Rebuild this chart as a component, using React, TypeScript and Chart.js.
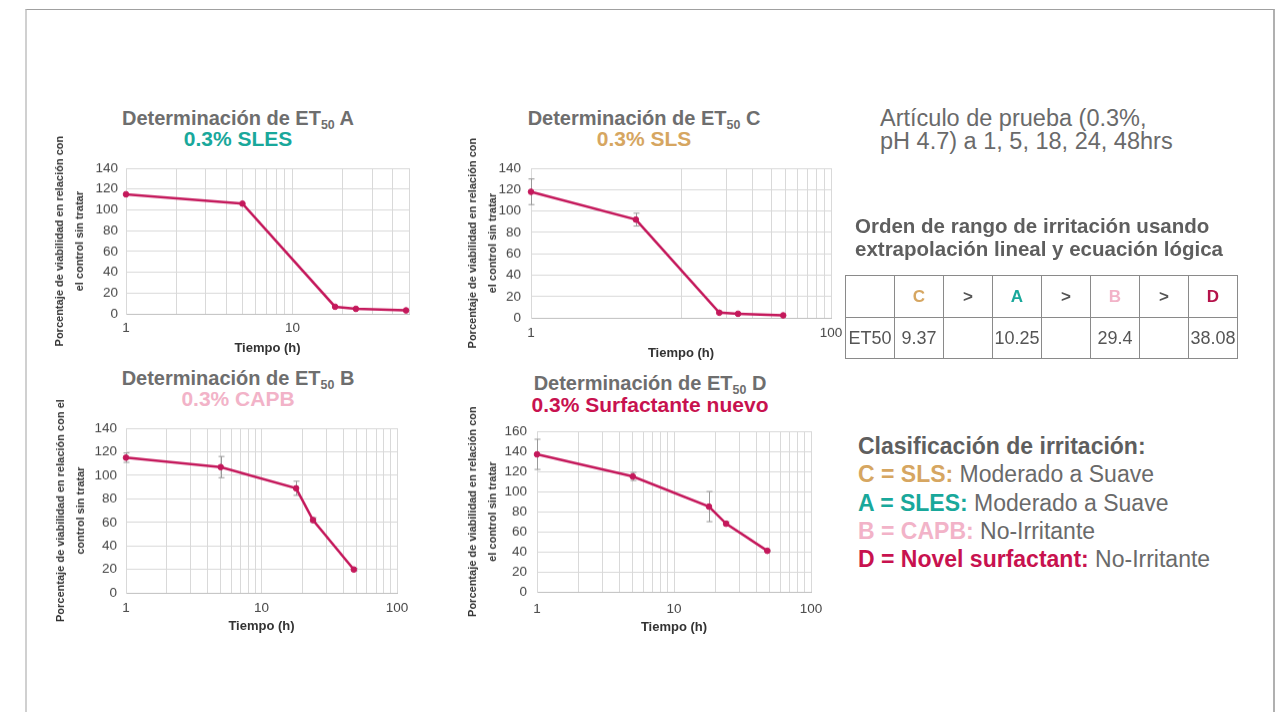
import React, { useEffect, useRef } from "react";
import { Chart, registerables } from "chart.js";

Chart.register(...registerables);

const FONT = "'Liberation Sans', Arial, Helvetica, sans-serif";
Chart.defaults.font.family = FONT;

// ---------- data ----------
const hours = [1, 5, 18, 24, 48];

const viabilityA = [115, 106, 7, 5, 3.5];
const errorA = [0, 0, 0, 0, 0];

const viabilityC = [118, 92, 5, 4, 2.5];
const errorC = [12, 6, 1, 0, 0];

const viabilityB = [115, 107, 89, 62, 20];
const errorB = [4, 9, 6, 2, 1];

const viabilityD = [137, 115, 85, 68, 41];
const errorD = [15, 4, 15, 2, 1];

const gridTicksA = [1, 2, 3, 4, 5, 6, 7, 8, 9, 10, 20, 30, 40, 50];
const gridTicksC = [1, 10, 20, 30, 40, 50, 60, 70, 80, 90, 100];
const gridTicksFull = [1, 2, 3, 4, 5, 6, 7, 8, 9, 10, 20, 30, 40, 50, 60, 70, 80, 90, 100];

const tickLabelsA = [1, 10];
const tickLabelsC = [1, 100];
const tickLabelsB = [1, 10, 100];
const tickLabelsD = [1, 10, 100];

const yTitleShort = ["Porcentaje de viabilidad en relación con", "el control sin tratar"];
const yTitleLong = ["Porcentaje de viabilidad en relación con el", "control sin tratar"];
const xTitle = "Tiempo (h)";

const rankLetters = ["C", ">", "A", ">", "B", ">", "D"];
const rankValues = ["9.37", "", "10.25", "", "29.4", "", "38.08"];

// ---------- colours ----------
const GRAY_TEXT = "#6a6a6a";
const TEAL = "#19a89b";
const TAN = "#d6a661";
const PINK = "#f2b3c8";
const CRIMSON = "#c8124f";
const LINE = "#c4185b";

const errorBarPlugin = {
  id: "errorBars",
  beforeDatasetsDraw(chart: any, _args: any, opts: any) {
    const errs: number[] = opts.errors || [];
    const vals: number[] = opts.values || [];
    const meta = chart.getDatasetMeta(0);
    const ys = chart.scales.y;
    const ctx = chart.ctx;
    ctx.save();
    ctx.strokeStyle = "#9a9a9a";
    ctx.lineWidth = 1;
    meta.data.forEach((pt: any, i: number) => {
      const e = errs[i];
      if (!e) return;
      const x = Math.round(pt.x) + 0.5;
      const y1 = ys.getPixelForValue(vals[i] + e);
      const y2 = ys.getPixelForValue(vals[i] - e);
      ctx.beginPath();
      ctx.moveTo(x, y1);
      ctx.lineTo(x, y2);
      ctx.moveTo(x - 3, y1);
      ctx.lineTo(x + 3, y1);
      ctx.moveTo(x - 3, y2);
      ctx.lineTo(x + 3, y2);
      ctx.stroke();
    });
    ctx.restore();
  },
};

type ChartProps = {
  values: number[];
  errors: number[];
  xMax: number;
  yMax: number;
  gridTicks: number[];
  tickLabels: number[];
  yTitle: string[];
  plot: { l: number; t: number; r: number; b: number };
  yTitleX: number; // centre of first title line
  yTickRight: number;
  xTickY: number;
  xTitleY: number;
};

function EtChart(p: ChartProps) {
  const ref = useRef<HTMLCanvasElement>(null);
  const PAD_T = 50;
  const PAD_R = 26;
  const Y_TITLE_LH = 20;
  const X_TITLE_SIZE = 13;
  const X_TITLE_LH = X_TITLE_SIZE * 1.2;
  const TICK_SIZE = 13.5;
  const TICK_LH = TICK_SIZE * 1.2;

  const canvasLeft = p.yTitleX - Y_TITLE_LH / 2;
  const canvasTop = p.plot.t - PAD_T;
  const canvasRight = p.plot.r + PAD_R;
  const canvasBottom = p.xTitleY + X_TITLE_LH / 2;
  const W = canvasRight - canvasLeft;
  const H = canvasBottom - canvasTop;
  const yScaleW = p.plot.l - canvasLeft;
  const xScaleH = canvasBottom - p.plot.b;

  useEffect(() => {
    if (!ref.current) return;
    const chart = new Chart(ref.current, {
      type: "line",
      data: {
        datasets: [
          {
            data: hours.map((h, i) => ({ x: h, y: p.values[i] })),
            borderColor: LINE,
            backgroundColor: LINE,
            borderWidth: 2.5,
            pointRadius: 2.8,
            pointHoverRadius: 2.8,
            pointBorderWidth: 1,
            pointBackgroundColor: LINE,
            pointBorderColor: LINE,
            tension: 0,
            clip: false,
          } as any,
        ],
      },
      options: {
        animation: false,
        responsive: false,
        maintainAspectRatio: false,
        events: [],
        layout: { padding: { top: PAD_T, right: PAD_R, left: 0, bottom: 0 } },
        plugins: {
          legend: { display: false },
          tooltip: { enabled: false },
          errorBars: { errors: p.errors, values: p.values },
        } as any,
        scales: {
          x: {
            type: "logarithmic",
            min: 1,
            max: p.xMax,
            afterBuildTicks: (scale: any) => {
              scale.ticks = p.gridTicks.map((v) => ({ value: v }));
            },
            afterFit: (scale: any) => {
              scale.height = xScaleH;
            },
            ticks: {
              autoSkip: false,
              maxRotation: 0,
              minRotation: 0,
              padding: p.xTickY - p.plot.b - TICK_LH / 2,
              color: "#454545",
              font: { size: TICK_SIZE, lineHeight: 1.2 },
              callback: (v: any) => (p.tickLabels.includes(Number(v)) ? String(v) : ""),
            },
            grid: { color: "#d9d9d9", lineWidth: 1, drawTicks: false },
            border: { color: "#bfbfbf", width: 1 },
            title: {
              display: true,
              text: xTitle,
              color: "#333333",
              font: { size: X_TITLE_SIZE, weight: "bold", lineHeight: 1.2 },
              padding: 0,
            },
          } as any,
          y: {
            type: "linear",
            min: 0,
            max: p.yMax,
            afterFit: (scale: any) => {
              scale.width = yScaleW;
            },
            ticks: {
              stepSize: 20,
              padding: p.plot.l - p.yTickRight,
              color: "#454545",
              font: { size: TICK_SIZE, lineHeight: 1.2 },
            },
            grid: { color: "#d9d9d9", lineWidth: 1, drawTicks: false },
            border: { color: "#d9d9d9", width: 1 },
            title: {
              display: true,
              text: p.yTitle,
              color: "#333333",
              font: { size: 11, weight: "bold", lineHeight: Y_TITLE_LH / 11 },
              padding: 0,
            },
          } as any,
        },
      },
      plugins: [errorBarPlugin as any],
    });
    return () => chart.destroy();
  }, []);

  return (
    <canvas
      ref={ref}
      width={W}
      height={H}
      style={{ position: "absolute", left: canvasLeft, top: canvasTop, width: W, height: H }}
    />
  );
}

function ChartTitle(props: { letter: string; sub: string; subColor: string; cx: number; cy1: number; cy2: number }) {
  const common: React.CSSProperties = {
    position: "absolute",
    width: 420,
    left: props.cx - 210,
    textAlign: "center",
    fontWeight: "bold",
    whiteSpace: "nowrap",
  };
  return (
    <>
      <div style={{ ...common, top: props.cy1 - 12, lineHeight: "24px", fontSize: 20, color: "#6e6e6e" }}>
        Determinación de ET
        <span style={{ fontSize: "0.62em", position: "relative", top: "0.3em" }}>50</span> {props.letter}
      </div>
      <div style={{ ...common, top: props.cy2 - 12, lineHeight: "24px", fontSize: 21, color: props.subColor }}>
        {props.sub}
      </div>
    </>
  );
}

const letterColors: Record<string, string> = { C: TAN, A: TEAL, B: PINK, D: "#b5124a", ">": "#555555" };

export default function App() {
  const cell: React.CSSProperties = {
    border: "1.5px solid #8a8a8a",
    padding: 0,
    textAlign: "center",
    verticalAlign: "middle",
    overflow: "visible",
    whiteSpace: "nowrap",
  };
  return (
    <div
      style={{
        position: "absolute",
        left: 0,
        top: 0,
        width: 1277,
        height: 712,
        overflow: "hidden",
        background: "#ffffff",
        fontFamily: FONT,
      }}
    >
      <div
        style={{
          position: "absolute",
          left: 25,
          top: 9,
          width: 1246,
          height: 760,
          borderTop: "1px solid #a0a0a0",
          borderLeft: "2px solid #d0d0d0",
          borderRight: "2px solid #b0b0b0",
        }}
      />

      <ChartTitle letter="A" sub="0.3% SLES" subColor={TEAL} cx={238} cy1={118} cy2={139} />
      <ChartTitle letter="C" sub="0.3% SLS" subColor={TAN} cx={644} cy1={118} cy2={139} />
      <ChartTitle letter="B" sub="0.3% CAPB" subColor={PINK} cx={238} cy1={378} cy2={399} />
      <ChartTitle letter="D" sub="0.3% Surfactante nuevo" subColor={CRIMSON} cx={650} cy1={383} cy2={405} />

      <EtChart
        values={viabilityA}
        errors={errorA}
        xMax={50}
        yMax={140}
        gridTicks={gridTicksA}
        tickLabels={tickLabelsA}
        yTitle={yTitleShort}
        plot={{ l: 126, t: 168, r: 409, b: 314 }}
        yTitleX={60}
        yTickRight={118}
        xTickY={328}
        xTitleY={348}
      />
      <EtChart
        values={viabilityC}
        errors={errorC}
        xMax={100}
        yMax={140}
        gridTicks={gridTicksC}
        tickLabels={tickLabelsC}
        yTitle={yTitleShort}
        plot={{ l: 531, t: 168, r: 831, b: 318 }}
        yTitleX={473}
        yTickRight={521}
        xTickY={333}
        xTitleY={353}
      />
      <EtChart
        values={viabilityB}
        errors={errorB}
        xMax={100}
        yMax={140}
        gridTicks={gridTicksFull}
        tickLabels={tickLabelsB}
        yTitle={yTitleLong}
        plot={{ l: 126, t: 428, r: 397, b: 593 }}
        yTitleX={61}
        yTickRight={117}
        xTickY={608}
        xTitleY={626}
      />
      <EtChart
        values={viabilityD}
        errors={errorD}
        xMax={100}
        yMax={160}
        gridTicks={gridTicksFull}
        tickLabels={tickLabelsD}
        yTitle={yTitleShort}
        plot={{ l: 537, t: 431, r: 811, b: 592 }}
        yTitleX={473}
        yTickRight={527}
        xTickY={609}
        xTitleY={627}
      />

      {/* right-hand texts */}
      <div style={{ position: "absolute", left: 880, top: 107, fontSize: 23.5, lineHeight: "23px", color: GRAY_TEXT, whiteSpace: "nowrap" }}>
        Artículo de prueba (0.3%,
        <br />
        pH 4.7) a 1, 5, 18, 24, 48hrs
      </div>

      <div style={{ position: "absolute", left: 855, top: 214, fontSize: 20.5, lineHeight: "23px", fontWeight: "bold", color: "#5e5e5e", whiteSpace: "nowrap" }}>
        Orden de rango de irritación usando
        <br />
        extrapolación lineal y ecuación lógica
      </div>

      <table
        style={{
          position: "absolute",
          left: 845,
          top: 275,
          width: 393,
          borderCollapse: "collapse",
          fontFamily: FONT,
          color: "#555555",
          tableLayout: "fixed",
        }}
      >
        <colgroup>
          {[0, 1, 2, 3, 4, 5, 6, 7].map((i) => (
            <col key={i} style={{ width: 49 }} />
          ))}
        </colgroup>
        <tbody>
          <tr style={{ height: 42 }}>
            <td style={cell}></td>
            {rankLetters.map((l, i) => (
              <td key={i} style={{ ...cell, fontWeight: "bold", fontSize: 17, color: letterColors[l] }}>
                {l}
              </td>
            ))}
          </tr>
          <tr style={{ height: 41 }}>
            <td style={{ ...cell, fontSize: 18 }}>ET50</td>
            {rankValues.map((v, i) => (
              <td key={i} style={{ ...cell, fontSize: 18 }}>
                {v}
              </td>
            ))}
          </tr>
        </tbody>
      </table>

      <div style={{ position: "absolute", left: 858, top: 432, fontSize: 23, lineHeight: "28.3px", color: GRAY_TEXT, whiteSpace: "nowrap" }}>
        <div style={{ fontWeight: "bold", color: "#5e5e5e" }}>Clasificación de irritación:</div>
        <div>
          <b style={{ color: TAN }}>C = SLS:</b> Moderado a Suave
        </div>
        <div>
          <b style={{ color: TEAL }}>A = SLES:</b> Moderado a Suave
        </div>
        <div>
          <b style={{ color: PINK }}>B = CAPB:</b> No-Irritante
        </div>
        <div>
          <b style={{ color: CRIMSON }}>D = Novel surfactant:</b> No-Irritante
        </div>
      </div>
    </div>
  );
}
